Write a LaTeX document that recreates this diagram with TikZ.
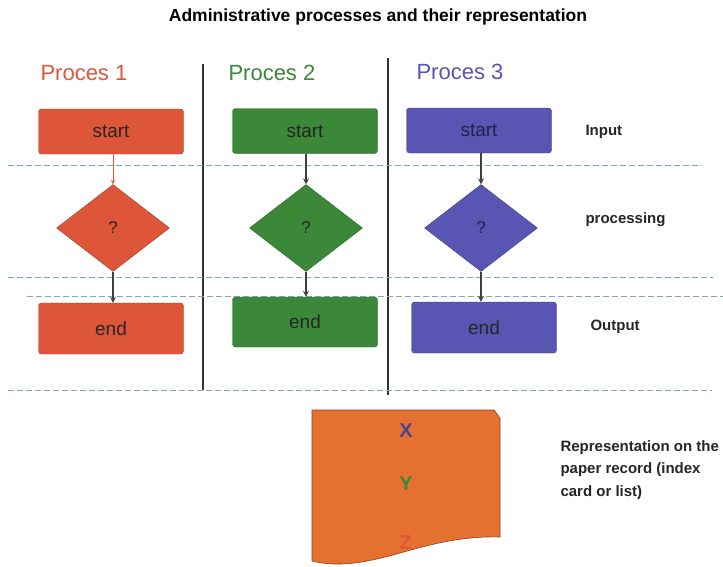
\documentclass[tikz,border=0pt]{standalone}
\usepackage{fontspec}
\setmainfont{Liberation Sans}
\usepackage{xcolor}
\usepackage{tikz}
\usetikzlibrary{shapes.geometric, arrows, positioning}

\definecolor{procred}{RGB}{221,86,58}
\definecolor{procgreen}{RGB}{58,136,56}
\definecolor{procblue}{RGB}{88,86,178}
\definecolor{paperorange}{RGB}{229,112,48}
\definecolor{sepblue}{RGB}{122,172,192}

\begin{document}
\begin{tikzpicture}[
  x=1pt, y=-1pt,
  box/.style={rectangle, draw=#1!75!black, fill=#1, rounded corners=3pt, minimum width=145pt, minimum height=45pt, text=black!85, font=\fontsize{19}{22}\selectfont},
  test/.style={diamond, draw=#1!75!black, fill=#1, aspect=1.3, minimum width=113pt, minimum height=87pt, inner sep=0pt, text=black!85, font=\fontsize{17}{20}\selectfont},
  head/.style={anchor=west, font=\fontsize{22}{25}\selectfont},
  side/.style={anchor=west, align=left, text=black!85, font=\bfseries\fontsize{15}{22.5}\selectfont},
  letter/.style={font=\bfseries\fontsize{20}{22}\selectfont},
  arrow/.style={->, line width=1.6pt, draw=black!75, >=stealth},
  sep/.style={draw=sepblue, line width=0.8pt, dash pattern=on 6pt off 3pt},
  divider/.style={draw=black!80, line width=1.2pt}
]
\useasboundingbox[fill=white] (0,0) rectangle (723,566);

% Title
\node[font=\bfseries\fontsize{17.5}{20}\selectfont] (title) at (378,17) {Administrative processes and their representation};

% Column heads
\node[head, text=procred] (head1) at (37,73) {Proces 1};
\node[head, text=procgreen] (head2) at (225,73) {Proces 2};
\node[head, text=procblue] (head3) at (413,72) {Proces 3};

% Separators
\draw[divider] (203,64) -- (203,390);
\draw[divider] (388,58) -- (388,395);
\draw[sep] (8,165) -- (702,165);
\draw[sep] (8,277) -- (713,277);
\draw[sep] (27,296) -- (723,296);
\draw[sep] (8,390) -- (712,390);

% Proces 1
\node[box=procred] (start1) at (111,131.5) {start};
\node[test=procred] (test1) at (113,228) {?};
\node[box=procred, minimum height=51pt] (end1) at (111,328.5) {end};

% Proces 2
\node[box=procgreen] (start2) at (305,131) {start};
\node[test=procgreen] (test2) at (306,228) {?};
\node[box=procgreen, minimum height=50pt] (end2) at (305,322) {end};

% Proces 3
\node[box=procblue, text=black!60!procblue] (start3) at (479,130.5) {start};
\node[test=procblue, text=black!60!procblue] (test3) at (481,228) {?};
\node[box=procblue, minimum height=51pt] (end3) at (484,327.5) {end};

% Arrows
\draw[->, >=stealth, draw=procred, line width=0.9pt] (start1.south -| test1.north) -- (test1.north);
\draw[arrow] (test1.south) -- (test1.south |- end1.north);
\draw[arrow] (start2.south -| test2.north) -- (test2.north);
\draw[arrow] (test2.south) -- (test2.south |- end2.north);
\draw[arrow] (start3.south -| test3.north) -- (test3.north);
\draw[arrow] (test3.south) -- (test3.south |- end3.north);

% Row labels
\node[side] (input) at (582,132) {Input};
\node[side] (proc) at (582,220) {processing};
\node[side] (output) at (587,327) {Output};

% Paper record
\draw[fill=paperorange, draw=paperorange!60!black, line width=0.6pt]
  (312,410) -- (494,410) -- (500,418) -- (500,537)
  .. controls (462,536) and (432,544) .. (400,553)
  .. controls (368,562) and (340,568) .. (312,561) -- cycle;
\node[letter, text=procblue!80!black] (xrec) at (406,431) {X};
\node[letter, text=procgreen] (yrec) at (406,484) {Y};
\node[letter, text=procred] (zrec) at (406,543) {Z};
\node[side] (record) at (557,470) {Representation on the\\paper record (index\\card or list)};

\end{tikzpicture}
\end{document}
